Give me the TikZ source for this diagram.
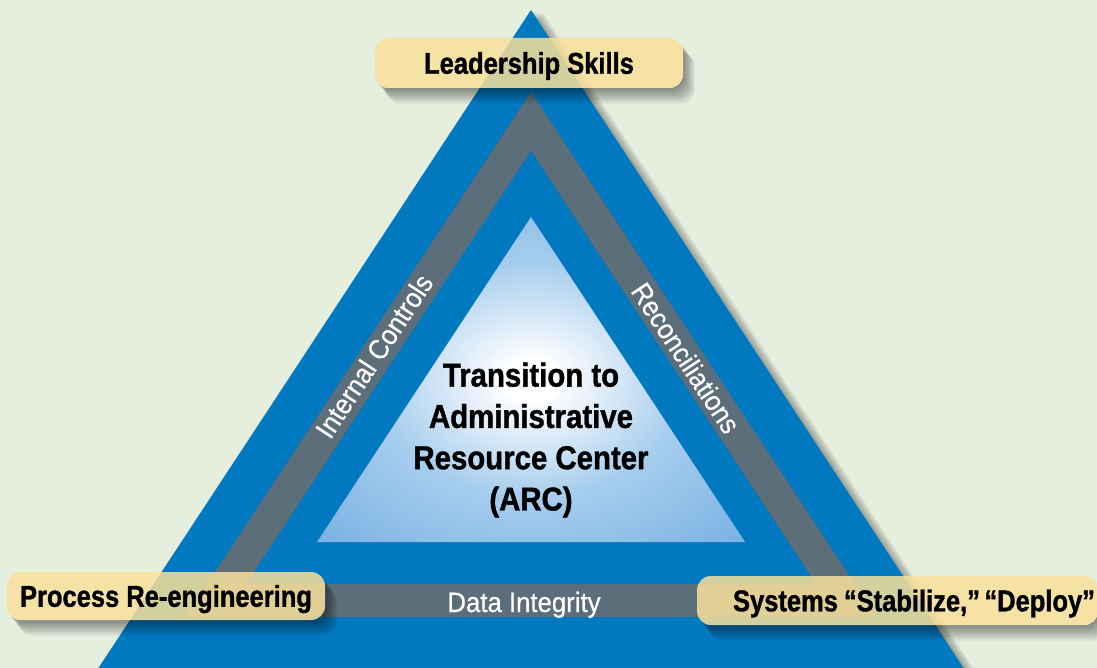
\documentclass[tikz,border=0pt]{standalone}
\usepackage{fontspec}
\setmainfont{Liberation Sans}
\newfontfamily\labelfont[FakeStretch=0.85,FakeBold=1.2]{Liberation Sans}
\newfontfamily\hubfont[FakeStretch=0.89,FakeBold=1.2]{Liberation Sans}
\newfontfamily\bandfont[FakeStretch=0.92,FakeBold=0.4]{Liberation Sans}

\definecolor{bgc}{HTML}{E6EEDE}
\definecolor{pyrblue}{HTML}{0079C1}
\definecolor{bandgray}{HTML}{5C6E79}
\definecolor{arcedge}{HTML}{5FA0DA}
\definecolor{arcouter}{HTML}{7DB4E3}
\definecolor{arcmid}{HTML}{A6CDEE}
\definecolor{boxc}{HTML}{F9E09B}

\pgfdeclareradialshading{arcglow}{\pgfpoint{0bp}{0bp}}{%
  color(0bp)=(white); color(3bp)=(white); color(18bp)=(arcmid);
  color(34bp)=(arcouter); color(48bp)=(arcedge); color(50bp)=(arcedge)}

\pgfdeclarelayer{base}
\pgfdeclarelayer{shade}
\pgfsetlayers{base,shade,main}

\begin{document}
\begin{tikzpicture}[x=1pt,y=-1pt,
  labelbox/.style={fill=boxc, fill opacity=0.85, text opacity=1,
    rounded corners=14pt, inner sep=0pt, text height=21.5pt, text depth=0pt,
    font=\labelfont\bfseries\fontsize{30}{34}\selectfont},
  bandtext/.style={text=white, inner sep=0pt, text height=20pt, text depth=0pt,
    font=\bandfont\fontsize{28}{32}\selectfont},
  hubtext/.style={align=center, inner sep=0pt,
    font=\hubfont\bfseries\fontsize{33}{41.3}\selectfont}]
\useasboundingbox (0,0) rectangle (1097,668);

\begin{pgfonlayer}{base}
  % page background
  \fill[bgc] (0,0) rectangle (1097,668);
  % soft shadow to the right of the pyramid
  \foreach \i in {1,...,10}
    \fill[black, opacity=0.035]
      ({531+1.3*\i},{10+0.4*\i}) -- ({978+1.3*\i},{690+0.4*\i}) -- ({84+1.3*\i},{690+0.4*\i}) -- cycle;
  % outer pyramid
  \fill[pyrblue] (531,10) -- (978,690) -- (84,690) -- cycle;
  % gray band (ring between two triangles)
  \fill[bandgray] (531,92) -- (876.5,617) -- (185.5,617) -- cycle;
  \fill[pyrblue] (531,151) -- (816,584) -- (246,584) -- cycle;
  % glowing core triangle
  \shade[shading=arcglow] (531,217) -- (745,542) -- (317,542) -- cycle;
\end{pgfonlayer}

% texts on the pyramid
\node[hubtext] (arc) at (531,440) {Transition to\\Administrative\\Resource Center\\(ARC)};
\node[bandtext, rotate=56.65] (ic) at (374,356) {Internal Controls};
\node[bandtext, rotate=-56.65] (rec) at (686,358) {Reconciliations};
\node[bandtext] (di) at (524,602) {Data Integrity};

% corner labels
\node[labelbox, minimum width=308pt, minimum height=50pt] (lead) at (529,63) {Leadership Skills};
\node[labelbox, minimum width=318pt, minimum height=48pt] (proc) at (166,596) {Process Re-engineering};
\node[labelbox, minimum height=49pt, text width=395pt, align=right, inner xsep=3pt]
  (sys) at (897.5,600.5) {Systems\hspace{0.2em}“Stabilize,”\hspace{0.15em}“Deploy”};

% drop shadows of the labels, kept outside the label boxes
\begin{pgfonlayer}{shade}
  \foreach \n in {lead,proc,sys} {
    \begin{scope}[even odd rule, rounded corners=14pt]
      \clip (-20,-20) rectangle (1120,690) (\n.south west) rectangle (\n.north east);
      \foreach \i in {1,...,12}
        \fill[black, opacity=0.04]
          ([shift={(\i*1.0,\i*1.3)}]\n.south west) rectangle ([shift={(\i*1.0,\i*1.3)}]\n.north east);
    \end{scope}
  }
\end{pgfonlayer}
\end{tikzpicture}
\end{document}
